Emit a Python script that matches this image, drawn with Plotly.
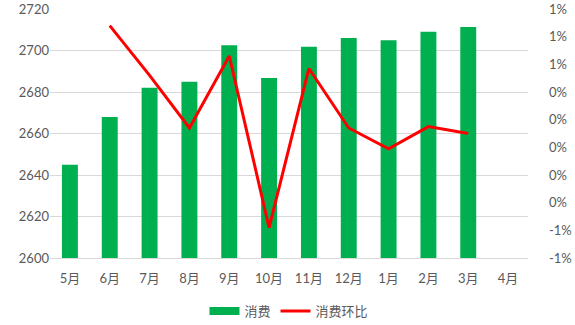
import plotly.graph_objects as go

months = ["5月", "6月", "7月", "8月", "9月", "10月", "11月", "12月", "1月", "2月", "3月", "4月"]
consumption = [2645, 2668, 2682, 2685, 2702.5, 2686.7, 2701.8, 2706, 2705, 2709, 2711.3, None]
mom_pct = [None, 0.88, 0.52, 0.14, 0.66, -0.58, 0.57, 0.14, -0.01, 0.15, 0.10, None]

left_ticks = [2600, 2620, 2640, 2660, 2680, 2700, 2720]
right_tickvals_pct = [1.0, 0.8, 0.6, 0.4, 0.2, 0.0, -0.2, -0.4, -0.6, -0.8]
right_ticktext = ["1%", "1%", "1%", "0%", "0%", "0%", "0%", "0%", "-1%", "-1%"]

mom = [None if v is None else v / 100 for v in mom_pct]
right_tickvals = [v / 100 for v in right_tickvals_pct]

font_fam = "Lato, 'Noto Sans CJK SC', sans-serif"
grey = "#595959"
green = "#00B050"
fs = 13

fig = go.Figure()
fig.add_trace(go.Bar(
    x=months, y=consumption, name="消费",
    marker=dict(color=green, line=dict(width=0)),
    yaxis="y", showlegend=False, legendgroup="c",
))
# legend-only entry giving the wide green swatch of the reference
fig.add_trace(go.Scatter(
    x=[None], y=[None], name="消费", mode="lines",
    line=dict(color=green, width=8), legendgroup="c",
))
fig.add_trace(go.Scatter(
    x=months, y=mom, name="消费环比", mode="lines",
    line=dict(color="#FF0000", width=3),
    yaxis="y2",
))

fig.update_layout(
    width=575, height=325,
    margin=dict(l=50, r=47, t=9, b=67, autoexpand=False),
    paper_bgcolor="white", plot_bgcolor="white",
    font=dict(family=font_fam, size=fs, color=grey),
    bargap=0.6,
    showlegend=True,
    legend=dict(orientation="h", x=0.5, xanchor="center", y=-0.213, yanchor="middle",
                font=dict(size=fs, color=grey), itemwidth=30, traceorder="normal"),
    xaxis=dict(
        type="category", categoryorder="array", categoryarray=months,
        showgrid=False, showline=True, linecolor="#d9d9d9", linewidth=1,
        ticks="", ticklabelstandoff=8, tickfont=dict(size=fs, color=grey),
    ),
    yaxis=dict(
        range=[2600, 2720], tickvals=left_ticks,
        showgrid=True, gridcolor="#d9d9d9", gridwidth=1,
        zeroline=False, showline=False, ticks="",
        tickfont=dict(size=fs, color=grey),
    ),
    yaxis2=dict(
        overlaying="y", side="right",
        range=[-0.008, 0.010], tickvals=right_tickvals, ticktext=right_ticktext,
        showgrid=False, zeroline=False, showline=False, ticks="",
        ticklabelstandoff=20,
        tickfont=dict(size=fs, color=grey),
    ),
)

fig.write_html("out.html")
